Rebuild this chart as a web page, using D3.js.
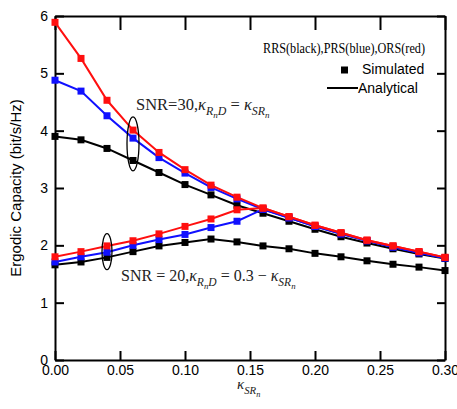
<!DOCTYPE html>
<html>
<head>
<meta charset="utf-8">
<script src="https://cdn.jsdelivr.net/npm/d3@7"></script>
<style>
  body { margin: 0; background: #fff; }
  svg { display: block; }
</style>
</head>
<body>
<div id="chart"></div>
<script>
// kappa_SR values (x axis)
var kappa = [0, 0.02, 0.04, 0.06, 0.08, 0.10, 0.12, 0.14, 0.16, 0.18, 0.20, 0.22, 0.24, 0.26, 0.28, 0.30];

// SNR = 30, kappa_RD = kappa_SR
var snr30Red   = [5.89, 5.26, 4.53, 4.01, 3.62, 3.32, 3.05, 2.84, 2.65, 2.50, 2.35, 2.22, 2.09, 1.99, 1.89, 1.79];
var snr30Blue  = [4.88, 4.69, 4.26, 3.87, 3.53, 3.26, 3.01, 2.81, 2.63, 2.48, 2.33, 2.20, 2.08, 1.97, 1.87, 1.78];
var snr30Black = [3.90, 3.84, 3.69, 3.48, 3.27, 3.06, 2.88, 2.70, 2.56, 2.42, 2.28, 2.15, 2.04, 1.94, 1.85, 1.77];

// SNR = 20, kappa_RD = 0.3 - kappa_SR
var snr20Red   = [1.80, 1.89, 1.99, 2.08, 2.20, 2.33, 2.46, 2.62, 2.65, 2.50, 2.35, 2.22, 2.09, 1.99, 1.89, 1.79];
var snr20Blue  = [1.71, 1.80, 1.88, 2.00, 2.10, 2.19, 2.31, 2.42, 2.63, 2.48, 2.33, 2.20, 2.08, 1.97, 1.87, 1.78];
var snr20Black = [1.66, 1.71, 1.79, 1.89, 1.99, 2.05, 2.11, 2.06, 1.99, 1.94, 1.86, 1.80, 1.73, 1.67, 1.62, 1.56];

var xTicks = [0, 0.05, 0.10, 0.15, 0.20, 0.25, 0.30];
var yTicks = [0, 1, 2, 3, 4, 5, 6];

var series = [
  { values: snr20Black, color: "#000000" },
  { values: snr30Black, color: "#000000" },
  { values: snr20Blue, color: "#1010ff" },
  { values: snr30Blue, color: "#1010ff" },
  { values: snr20Red, color: "#ff0f0f" },
  { values: snr30Red, color: "#ff0f0f" }
];

var W = 457, H = 409;
var margin = { top: 16, right: 12, bottom: 49, left: 55 };
var width = W - margin.left - margin.right,
    height = H - margin.top - margin.bottom;

var sans = "'Liberation Sans', Arial, sans-serif";
var serif = "'Liberation Serif', 'Times New Roman', serif";

var svg = d3.select("#chart").append("svg")
  .attr("width", W)
  .attr("height", H);

var g = svg.append("g")
  .attr("transform", "translate(" + margin.left + "," + margin.top + ")");

var x = d3.scaleLinear().domain([0, 0.3]).range([0, width]);
var y = d3.scaleLinear().domain([0, 6]).range([height, 0]);

// axes, ticks pointing inward
var axBottom = g.append("g")
  .attr("transform", "translate(0," + height + ")")
  .call(d3.axisBottom(x).tickValues(xTicks).tickFormat(d3.format(".2f"))
    .tickSizeInner(-9).tickSizeOuter(0).tickPadding(5));
var axLeft = g.append("g")
  .call(d3.axisLeft(y).tickValues(yTicks).tickFormat(d3.format("d"))
    .tickSizeInner(-9).tickSizeOuter(0).tickPadding(7));
var axTop = g.append("g")
  .call(d3.axisTop(x).tickValues(xTicks).tickFormat("")
    .tickSizeInner(-14).tickSizeOuter(0));
var axRight = g.append("g")
  .attr("transform", "translate(" + width + ",0)")
  .call(d3.axisRight(y).tickValues(yTicks).tickFormat("")
    .tickSizeInner(-8).tickSizeOuter(0));

[axBottom, axLeft, axTop, axRight].forEach(function (a) {
  a.selectAll("path, line").attr("stroke", "#000").attr("stroke-width", 2);
  a.selectAll("text").attr("fill", "#000")
    .style("font-family", sans).style("font-size", "14px");
});

// lines + square markers
var line = d3.line()
  .x(function (d, i) { return x(kappa[i]); })
  .y(function (d) { return y(d); });

series.forEach(function (s) {
  g.append("path")
    .datum(s.values)
    .attr("fill", "none")
    .attr("stroke", s.color)
    .attr("stroke-width", 2)
    .attr("d", line);
  g.selectAll(null)
    .data(s.values)
    .enter()
    .append("rect")
    .attr("x", function (d, i) { return x(kappa[i]) - 3.5; })
    .attr("y", function (d) { return y(d) - 3.5; })
    .attr("width", 7)
    .attr("height", 7)
    .attr("fill", s.color);
});

// ellipses marking the two groups
g.append("ellipse")
  .attr("cx", x(0.06)).attr("cy", y(3.77))
  .attr("rx", 6).attr("ry", 27)
  .attr("fill", "none").attr("stroke", "#000").attr("stroke-width", 1.3);
g.append("ellipse")
  .attr("cx", x(0.04)).attr("cy", y(1.89))
  .attr("rx", 5).attr("ry", 18)
  .attr("fill", "none").attr("stroke", "#000").attr("stroke-width", 1.3);

// math-ish text helper: parts = [text, level, italic]
function mathText(sel, parts, size) {
  var shifts = [0, 0.3, 0.5];
  var scales = [1, 0.72, 0.55];
  var prev = 0;
  parts.forEach(function (p) {
    var lvl = p[1];
    var cur = shifts[lvl] * size;
    sel.append("tspan")
      .attr("dy", cur - prev)
      .style("font-size", (size * scales[lvl]) + "px")
      .style("font-style", p[2] ? "italic" : "normal")
      .text(p[0]);
    prev = cur;
  });
}

var t30 = svg.append("text")
  .attr("x", 136).attr("y", 110)
  .style("font-family", serif).attr("fill", "#222");
mathText(t30, [
  ["SNR=30,", 0, false], ["\u03BA", 0, true], ["R", 1, true], ["n", 2, true], ["D", 1, true],
  [" = ", 0, false], ["\u03BA", 0, true], ["SR", 1, true], ["n", 2, true]
], 16.5);

var t20 = svg.append("text")
  .attr("x", 121).attr("y", 281)
  .style("font-family", serif).attr("fill", "#222");
mathText(t20, [
  ["SNR = 20,", 0, false], ["\u03BA", 0, true], ["R", 1, true], ["n", 2, true], ["D", 1, true],
  [" = 0.3 \u2212 ", 0, false], ["\u03BA", 0, true], ["SR", 1, true], ["n", 2, true]
], 16);

// legend
svg.append("text")
  .attr("x", 263).attr("y", 53)
  .attr("textLength", 162).attr("lengthAdjust", "spacingAndGlyphs")
  .style("font-family", serif).style("font-size", "14px")
  .attr("fill", "#000")
  .text("RRS(black),PRS(blue),ORS(red)");

svg.append("rect")
  .attr("x", 341).attr("y", 66.5).attr("width", 7).attr("height", 7)
  .attr("fill", "#000");
svg.append("text")
  .attr("x", 362).attr("y", 74)
  .style("font-family", sans).style("font-size", "14px")
  .text("Simulated");
svg.append("line")
  .attr("x1", 327).attr("x2", 358).attr("y1", 88).attr("y2", 88)
  .attr("stroke", "#000").attr("stroke-width", 2);
svg.append("text")
  .attr("x", 358).attr("y", 93)
  .style("font-family", sans).style("font-size", "14px")
  .text("Analytical");

// axis titles
svg.append("text")
  .attr("transform", "translate(21," + (margin.top + height / 2) + ") rotate(-90)")
  .attr("text-anchor", "middle")
  .style("font-family", sans).style("font-size", "15px")
  .text("Ergodic Capacity (bit/s/Hz)");

var xl = svg.append("text")
  .attr("x", 237).attr("y", 389)
  .style("font-family", serif).attr("fill", "#222");
mathText(xl, [["\u03BA", 0, true], ["SR", 1, true], ["n", 2, true]], 15);
</script>
</body>
</html>
